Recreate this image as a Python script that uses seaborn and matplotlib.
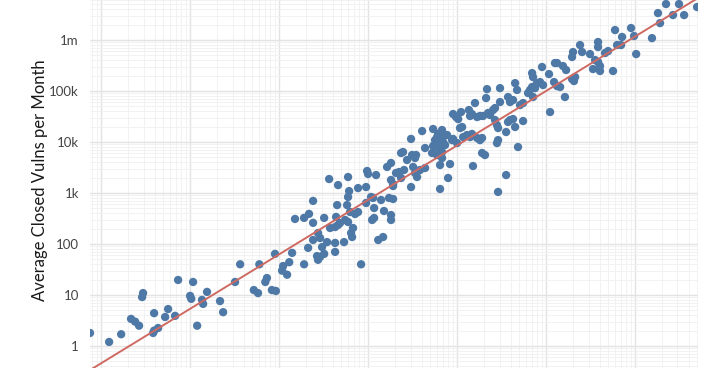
import numpy as np
import pandas as pd
import matplotlib
matplotlib.use("Agg")
import matplotlib.pyplot as plt
import seaborn as sns
from matplotlib.ticker import LogLocator, FuncFormatter, NullFormatter

# === DATA ===
x_vals = [0.75, 1.23, 1.68, 2.17, 2.41, 2.67, 2.89, 2.96, 3.84, 3.94,
          4.37, 3.94, 5.24, 5.66, 6.78, 7.33, 10.8, 10.0, 10.3, 12.0,
          13.6, 14.0, 15.5, 21.7, 23.5, 32, 36.5, 52, 58, 60,
          70, 73, 83, 92, 90, 108, 111, 123, 130, 140,
          151, 191, 191, 217, 212, 241, 241, 241, 267, 274,
          289, 274, 289, 321, 321, 304, 346, 374, 426, 460,
          426, 426, 449, 437, 484, 552, 596, 460, 537, 581,
          596, 612, 644, 661, 628, 678, 714, 772, 772, 950,
          835, 950, 1080, 1140, 1170, 1110, 1170, 1300, 1475, 1400,
          1510, 1720, 1910, 1810, 1810, 1910, 3040, 6440, 365, 596,
          975, 1000, 1230, 1635, 1810, 1810, 1910, 2060, 2230, 2540,
          2350, 2470, 2740, 3040, 3120, 3460, 3210, 3370, 3550, 2350,
          3840, 4370, 3370, 4050, 4370, 5380, 5660, 5960, 6120, 6440,
          6780, 6970, 7730, 6970, 7330, 5380, 5960, 6440, 6780, 5240,
          5960, 6780, 6440, 8340, 7930, 8790, 9020, 10000, 9020, 9750,
          10300, 11100, 11400, 10800, 11700, 12900, 14000, 14700, 13600, 14000,
          14700, 15900, 16800, 18100, 19600, 16800, 18100, 19100, 19100, 20600,
          15100, 21700, 21200, 22300, 23500, 25400, 26700, 26700, 28100, 28900,
          30400, 30400, 28100, 28900, 35600, 35600, 28900, 37400, 39400, 42600,
          37400, 39400, 42600, 44900, 44900, 47200, 48400, 51000, 55200, 55200,
          62800, 69700, 71400, 66100, 69700, 75200, 79200, 85700, 92500, 71400,
          90200, 108000, 111000, 126000, 133000, 123000, 133000, 144000, 155000, 168000,
          163000, 196000, 206000, 212000, 201000, 196000, 241000, 254000, 312000, 356000,
          384000, 404000, 337000, 404000, 384000, 384000, 460000, 498000, 566000, 596000,
          628000, 697000, 715000, 902000, 975000, 1030000, 1550000, 1810000, 1910000, 2230000,
          2670000, 3120000, 3560000, 4980000]

y_vals = [1.8, 1.2, 1.7, 3.4, 3.0, 2.5, 9.1, 10.9, 1.8, 2.0,
          2.25, 4.4, 3.7, 5.3, 3.9, 19.7, 18, 9.6, 8.4, 2.5,
          8.0, 6.7, 11.5, 7.6, 4.6, 18, 40, 12.5, 10.9, 40,
          18, 21.5, 12.5, 12, 64, 30, 37, 25, 44, 67,
          310, 40, 325, 390, 84, 260, 700, 120, 58, 49,
          56, 164, 131, 325, 64, 87, 109, 206, 215, 236,
          105, 70, 580, 340, 258, 296, 270, 1430, 109, 580,
          835, 1090, 164, 137, 424, 206, 387, 424, 1250, 1310,
          40, 637, 835, 800, 508, 296, 324, 120, 137, 730,
          444, 800, 763, 296, 370, 1370, 1310, 1200, 1880, 2060,
          2700, 2360, 2250, 3240, 3880, 1800, 1500, 2470, 2580, 2830,
          6090, 6370, 4440, 11500, 5560, 5560, 3240, 2470, 2060, 1970,
          2830, 3090, 4860, 16400, 7630, 18000, 10900, 12500, 14400, 10900,
          17200, 13100, 13700, 10000, 8730, 8350, 7980, 7290, 6370, 6090,
          5560, 4860, 3540, 3700, 1970, 10900, 11500, 9550, 35400, 30900,
          28200, 38700, 19700, 18800, 12500, 13700, 12500, 14400, 42400, 32400,
          35400, 58200, 30900, 32400, 32400, 12000, 10900, 12000, 6090, 5560,
          3380, 109000, 72900, 37100, 33800, 42400, 46400, 27000, 21500, 18800,
          114000, 60800, 9550, 10900, 15700, 2250, 1050, 76300, 60800, 66600,
          24700, 27000, 28200, 19700, 143000, 105000, 7980, 53100, 58200, 25800,
          91400, 225000, 188000, 105000, 120000, 114000, 143000, 150000, 131000, 76300,
          296000, 215000, 38700, 354000, 354000, 150000, 125000, 120000, 309000, 258000,
          76300, 172000, 157000, 188000, 582000, 465000, 798000, 582000, 531000, 405000,
          371000, 309000, 270000, 247000, 914000, 729000, 556000, 608000, 247000, 1570000,
          798000, 798000, 1150000, 1720000, 1200000, 531000, 1090000, 3380000, 2150000, 5080000,
          3090000, 5080000, 3090000, 4440000]

# fitted trend line in log10 space: log10(y) = fit_slope * log10(x) + fit_intercept
fit_slope = 1.068
fit_intercept = -0.339

x_limits = (0.75, 5.1e6)
y_limits = (0.37, 6.1e6)

y_tick_values = [1, 10, 100, 1e3, 1e4, 1e5, 1e6]
y_tick_labels = ["1", "10", "100", "1k", "10k", "100k", "1m"]

df = pd.DataFrame({"x": x_vals, "y": y_vals})

# === STYLE ===
sns.set_style("whitegrid")
plt.rcParams['font.family'] = ['Lato', 'DejaVu Sans']

fig = plt.figure(figsize=(7.1, 3.75), dpi=100)
ax = fig.add_axes([90 / 710, 7 / 375, 608 / 710, 368 / 375])

ax.set_xscale('log')
ax.set_yscale('log')

# === SCATTER + TREND LINE ===
sns.scatterplot(data=df, x="x", y="y", ax=ax, color="#4e79a7", s=36,
                edgecolor="none", linewidth=0, zorder=3, clip_on=True)

line_x = np.array(x_limits)
line_y = 10 ** (fit_slope * np.log10(line_x) + fit_intercept)
ax.plot(line_x, line_y, color="#cf6a63", lw=1.4, zorder=4)

ax.set_xlim(*x_limits)
ax.set_ylim(*y_limits)

# === AXES / GRID ===
ax.xaxis.set_major_locator(LogLocator(base=10, numticks=20))
ax.xaxis.set_minor_locator(LogLocator(base=10, subs=np.arange(2, 10), numticks=40))
ax.yaxis.set_minor_locator(LogLocator(base=10, subs=np.arange(2, 10), numticks=40))
ax.set_yticks(y_tick_values)
ax.yaxis.set_major_formatter(FuncFormatter(
    lambda v, pos: dict(zip(y_tick_values, y_tick_labels)).get(v, "")))
ax.yaxis.set_minor_formatter(NullFormatter())
ax.xaxis.set_major_formatter(NullFormatter())
ax.xaxis.set_minor_formatter(NullFormatter())

ax.grid(which='major', color="#e3e3e3", lw=1.0)
ax.grid(which='minor', color="#f0f0f0", lw=0.6)
ax.set_axisbelow(True)
for s in ax.spines.values():
    s.set_visible(False)

ax.tick_params(axis='both', which='both', length=0)
ax.tick_params(axis='y', labelsize=9.5, labelcolor="#444444", pad=8)

ax.set_xlabel("")
ax.set_ylabel("Average Closed Vulns per Month", fontsize=12, color="#1a1a1a", labelpad=4)
ax.yaxis.set_label_coords(-42 / 608, 0.51)

plt.savefig("out.png", dpi=100)
plt.close()
